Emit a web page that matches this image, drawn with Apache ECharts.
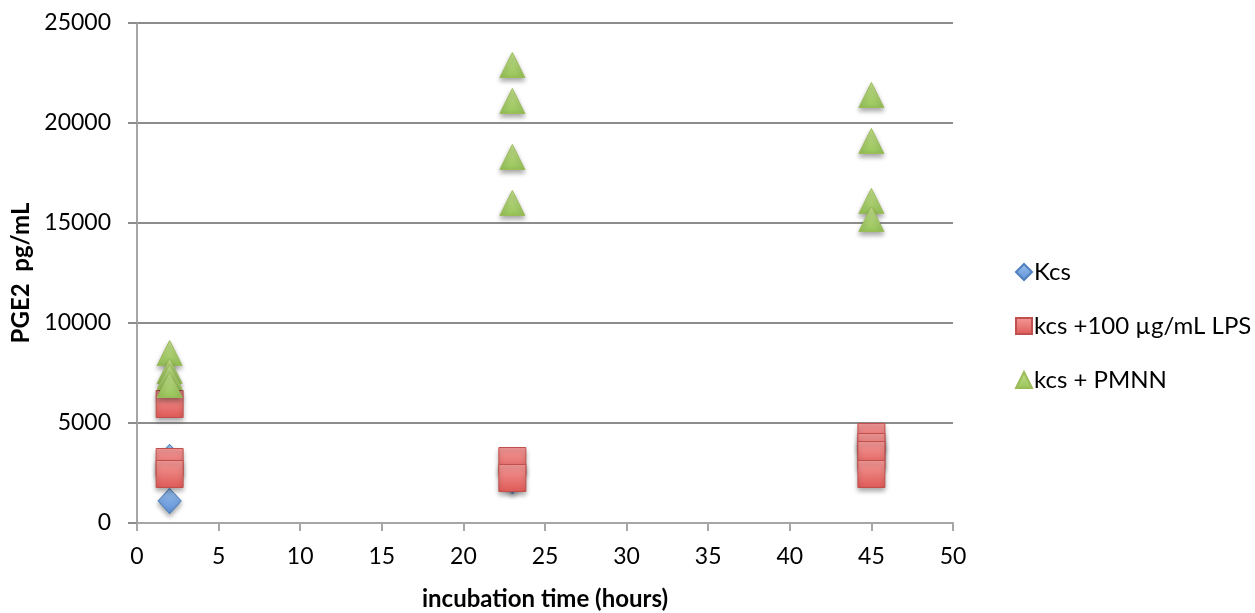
<!DOCTYPE html>
<html><head><meta charset="utf-8">
<script src="https://cdn.jsdelivr.net/npm/echarts@6/dist/echarts.min.js"></script>
<style>html,body{margin:0;padding:0;background:#fff}#c{width:1255px;height:613px}</style>
</head><body><div id="c"></div>
<script>
const kcsX = [2, 2, 2, 23, 23, 23, 45, 45];
const kcsY = [3300, 2600, 1100, 2100, 2600, 2900, 3500, 2800];
const lpsX = [2, 2, 2, 23, 23, 45, 45, 45, 45];
const lpsY = [5950, 3050, 2450, 3100, 2250, 4300, 3800, 3400, 2450];
const pmnnX = [2, 2, 2, 2, 23, 23, 23, 23, 45, 45, 45, 45];
const pmnnY = [8500, 7600, 7300, 6900, 22900, 21100, 18300, 16000, 21400, 19100, 16100, 15200];
const seriesNames = ['Kcs', 'kcs +100 µg/mL LPS', 'kcs + PMNN'];

const font = 'Lato, "Open Sans", "Liberation Sans", sans-serif';
function pts(xs, ys){ return xs.map((x,i)=>[x, ys[i]]); }
function grad(top, bottom){
  return new echarts.graphic.LinearGradient(0,0,0,1,[{offset:0,color:top},{offset:1,color:bottom}]);
}
const chart = echarts.init(document.getElementById('c'));
chart.setOption({
  animation: false,
  textStyle: {fontFamily: font},
  grid: {left: 137, right: 1255-953, top: 23, bottom: 613-523, containLabel: false, outerBoundsMode: 'none'},
  legend: {
    orient: 'vertical', left: 1010, top: 255, itemGap: 30, itemWidth: 16, itemHeight: 16,
    textStyle: {fontSize: 24, color: '#000', fontFamily: font, padding:[0,0,0,-3]},
    data: seriesNames.map(n=>({name:n}))
  },
  xAxis: {
    type: 'value', min: 0, max: 50, interval: 5,
    name: 'incubation time (hours)', nameLocation: 'middle', nameGap: 64,
    nameTextStyle: {fontSize: 24, fontWeight: 'bold', color: '#000'},
    axisLine: {show: true, lineStyle: {color: '#a6a6a6', width: 2}},
    axisTick: {show: true, length: 8, lineStyle: {color: '#a6a6a6', width: 2}},
    axisLabel: {fontSize: 23, color: '#000', margin: 22},
    splitLine: {show: false}
  },
  yAxis: {
    type: 'value', min: 0, max: 25000, interval: 5000,
    name: 'PGE2  pg/mL', nameLocation: 'middle', nameGap: 102, nameRotate: 90,
    nameTextStyle: {fontSize: 24, fontWeight: 'bold', color: '#000'},
    axisLine: {show: true, lineStyle: {color: '#a6a6a6', width: 2}},
    axisTick: {show: true, length: 9, lineStyle: {color: '#8c8c8c', width: 2}},
    axisLabel: {fontSize: 23, color: '#000', margin: 26, formatter: v => String(v)},
    splitLine: {show: true, lineStyle: {color: '#8c8c8c', width: 2}}
  },
  series: [
    {name: seriesNames[0], type: 'scatter', symbol: 'diamond', symbolSize: [23, 25],
     data: pts(kcsX, kcsY),
     itemStyle: {opacity: 1, color: grad('#9cc2f0', '#5d8fd6'), borderColor: '#4f81bd', borderWidth: 1,
       shadowBlur: 5, shadowColor: 'rgba(0,0,0,0.35)', shadowOffsetY: 3}},
    {name: seriesNames[1], type: 'scatter', symbol: 'rect', symbolSize: [27, 27],
     data: pts(lpsX, lpsY),
     itemStyle: {opacity: 1, color: grad('#f39a98', '#df5a57'), borderColor: '#c0504d', borderWidth: 1,
       shadowBlur: 5, shadowColor: 'rgba(0,0,0,0.35)', shadowOffsetY: 3}},
    {name: seriesNames[2], type: 'scatter', symbol: 'triangle', symbolSize: [25, 25],
     data: pts(pmnnX, pmnnY),
     itemStyle: {opacity: 1, color: grad('#c4e08e', '#97c458'), borderColor: '#9bbb59', borderWidth: 1,
       shadowBlur: 5, shadowColor: 'rgba(0,0,0,0.35)', shadowOffsetY: 3}}
  ]
});
</script></body></html>
